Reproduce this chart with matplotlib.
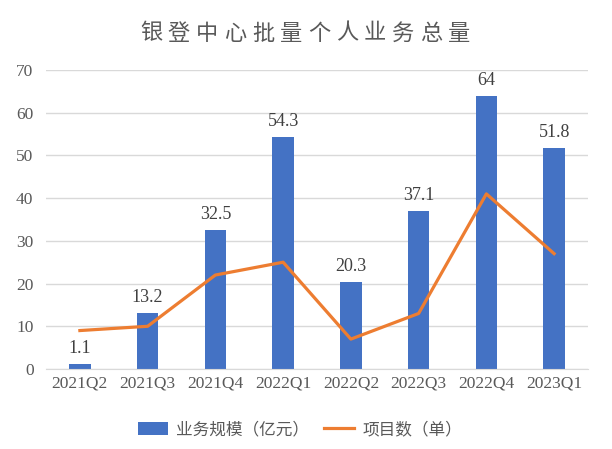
import matplotlib.pyplot as plt
import numpy as np

# data
quarters = ['2021Q2', '2021Q3', '2021Q4', '2022Q1', '2022Q2', '2022Q3', '2022Q4', '2023Q1']
scale = [1.1, 13.2, 32.5, 54.3, 20.3, 37.1, 64, 51.8]      # 业务规模（亿元）
projects = [9, 10, 22, 25, 7, 13, 41, 27]                  # 项目数（单）
title = '银登中心批量个人业务总量'

blue = '#4472C4'
orange = '#ED7D31'
grey_txt = '#595959'
cjk = ['Noto Sans CJK SC', 'DejaVu Sans']
serif = ['Liberation Serif', 'DejaVu Serif']

W, H = 612, 449
fig = plt.figure(figsize=(W / 100, H / 100), dpi=100)
ax = fig.add_axes([46 / W, (H - 369) / H, (588 - 46) / W, (369 - 70) / H])

x = np.arange(len(quarters))
bars = ax.bar(x, scale, width=0.32, color=blue, label='业务规模（亿元）', zorder=2)
line, = ax.plot(x, projects, color=orange, linewidth=2.3, label='项目数（单）', zorder=3)

for xi, v in zip(x, scale):
    ax.annotate(f'{v:g}', (xi, v), xytext=(0, 5), textcoords='offset points',
                ha='center', va='bottom', fontsize=13, color='#404040', family=serif)

ax.set_xlim(-0.5, len(quarters) - 0.5)
ax.set_ylim(0, 70)
ax.set_yticks(np.arange(0, 71, 10))
ax.set_xticks(x)
ax.set_xticklabels(quarters)
for lab in ax.get_xticklabels() + ax.get_yticklabels():
    lab.set_family(serif)
    lab.set_fontsize(12.5)
    lab.set_color(grey_txt)
ax.tick_params(axis='y', length=0, pad=9)
ax.tick_params(axis='x', length=0, pad=5)

ax.yaxis.grid(True, color='#D9D9D9', linewidth=1, zorder=0)
ax.set_axisbelow(True)
for s in ['top', 'right', 'left']:
    ax.spines[s].set_visible(False)
ax.spines['bottom'].set_color('#D9D9D9')

# title, characters spread out like the original
cx0, step = 151, 28
for i, ch in enumerate(title):
    fig.text((cx0 + i * step) / W, 1 - 33 / H, ch, ha='center', va='center',
             fontsize=16, color=grey_txt, family=cjk, fontweight='light')

leg = fig.legend([bars, line], ['业务规模（亿元）', '项目数（单）'],
                 loc='center', bbox_to_anchor=(300 / W, 1 - 430 / H), ncol=2,
                 frameon=False, prop={'family': cjk, 'size': 12},
                 handlelength=1.8, handleheight=0.8, columnspacing=0.9, handletextpad=0.5)
for t in leg.get_texts():
    t.set_color(grey_txt)

fig.savefig('out.png', dpi=100)
